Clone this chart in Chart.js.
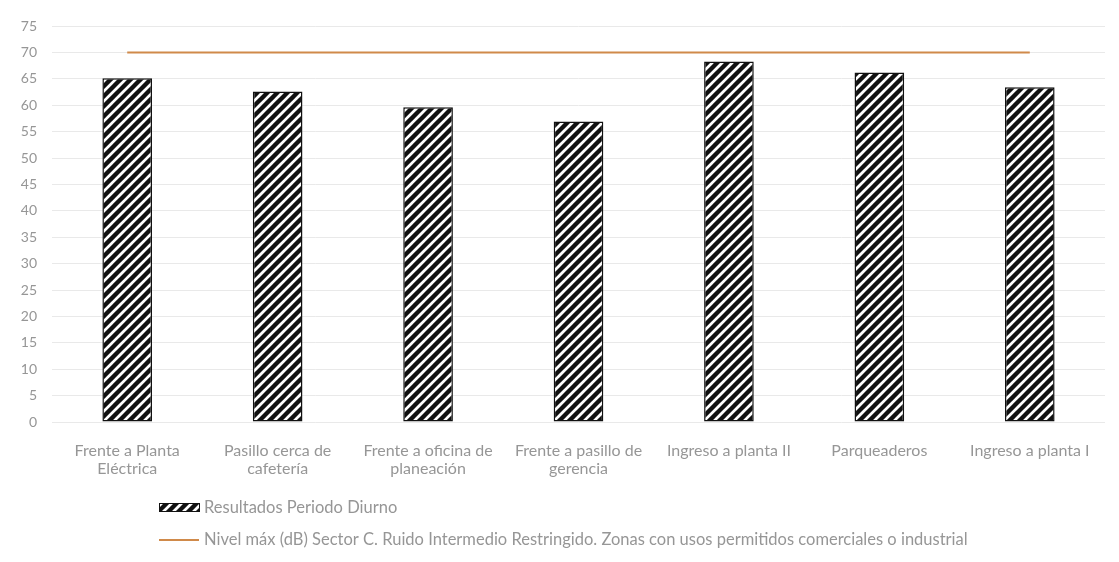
<!DOCTYPE html>
<html>
<head>
<meta charset="utf-8">
<script src="https://cdn.jsdelivr.net/npm/chart.js@4/dist/chart.umd.min.js"></script>
<style>
  body { margin: 0; background: #fff; }
  #wrap { width: 1119px; height: 562px; }
</style>
</head>
<body>
<div id="wrap"><canvas id="chart" width="1119" height="562"></canvas></div>
<script>
// Categories (sampling points), split into label lines
const categories = [
    ['Frente a Planta', 'Eléctrica'],
    ['Pasillo cerca de', 'cafetería'],
    ['Frente a oficina de', 'planeación'],
    ['Frente a pasillo de', 'gerencia'],
    'Ingreso a planta II',
    'Parqueaderos',
    'Ingreso a planta I'
];

// Measured noise levels, day period (dB)
const resultadosDiurno = [65.1, 62.6, 59.6, 56.9, 68.3, 66.2, 63.4];

// Max level allowed for Sector C (dB)
const nivelMaximo = [70, 70, 70, 70, 70, 70, 70];

const yTicks = { min: 0, max: 75, step: 5 };

const seriesLabels = [
    'Resultados Periodo Diurno',
    'Nivel máx (dB) Sector C. Ruido Intermedio Restringido. Zonas con usos permitidos comerciales o industrial'
];

const FONT = 'Lato, "Open Sans", sans-serif';
const TEXT_COLOR = '#969696';
const LINE_COLOR = '#d08a4a';

// Diagonal hatch pattern for the bars
function makeHatch() {
    const s = 10;
    const c = document.createElement('canvas');
    c.width = s * 2;
    c.height = s * 2;
    const g = c.getContext('2d');
    g.fillStyle = '#ffffff';
    g.fillRect(0, 0, c.width, c.height);
    g.strokeStyle = '#111111';
    g.lineWidth = 4.4;
    // lines run past the tile edges so the seams stay clean
    for (let k = -3; k <= 3; k++) {
        g.beginPath();
        g.moveTo(k * s - s * 2, s * 4);
        g.lineTo(k * s + s * 4, -s * 2);
        g.stroke();
    }
    return g.createPattern(c, 'repeat');
}

const ctx = document.getElementById('chart');
const hatch = makeHatch();

// Legend drawn below the axis, two stacked rows
const bottomLegend = {
    id: 'bottomLegend',
    afterDraw(chart) {
        const c = chart.ctx;
        c.save();
        c.font = '16.5px ' + FONT;
        c.textBaseline = 'middle';
        c.textAlign = 'left';

        // row 1: hatched swatch
        c.fillStyle = hatch;
        c.fillRect(159, 503, 41, 9);
        c.strokeStyle = '#111';
        c.lineWidth = 1;
        c.strokeRect(159.5, 503.5, 40, 8);
        c.fillStyle = TEXT_COLOR;
        c.fillText(seriesLabels[0], 204, 508);

        // row 2: line swatch
        c.strokeStyle = LINE_COLOR;
        c.lineWidth = 2;
        c.beginPath();
        c.moveTo(159, 540);
        c.lineTo(199, 540);
        c.stroke();
        c.fillText(seriesLabels[1], 204, 540);
        c.restore();
    }
};

new Chart(ctx, {
    data: {
        labels: categories,
        datasets: [{
            type: 'line',
            label: seriesLabels[1],
            data: nivelMaximo,
            borderColor: LINE_COLOR,
            borderWidth: 2,
            pointRadius: 0,
            fill: false,
            order: 0
        }, {
            type: 'bar',
            label: seriesLabels[0],
            data: resultadosDiurno,
            backgroundColor: hatch,
            borderColor: '#111111',
            borderWidth: 1.5,
            borderSkipped: false,
            categoryPercentage: 1,
            barPercentage: 0.33,
            order: 1
        }]
    },
    options: {
        responsive: false,
        animation: false,
        layout: { padding: { top: 26, right: 14, left: 0, bottom: 0 } },
        plugins: {
            legend: { display: false },
            tooltip: { enabled: false }
        },
        scales: {
            x: {
                grid: { display: false },
                border: { display: false },
                ticks: {
                    color: TEXT_COLOR,
                    font: { family: FONT, size: 16, lineHeight: 1.1 },
                    padding: 12,
                    maxRotation: 0,
                    autoSkip: false
                },
                afterFit: function(scale) { scale.height = 140; }
            },
            y: {
                min: yTicks.min,
                max: yTicks.max,
                grid: { color: '#e9e9e9', drawTicks: false },
                border: { display: false },
                ticks: {
                    stepSize: yTicks.step,
                    color: TEXT_COLOR,
                    font: { family: FONT, size: 14 },
                    padding: 15
                },
                afterFit: function(scale) { scale.width = 52; }
            }
        }
    },
    plugins: [bottomLegend]
});
</script>
</body>
</html>
